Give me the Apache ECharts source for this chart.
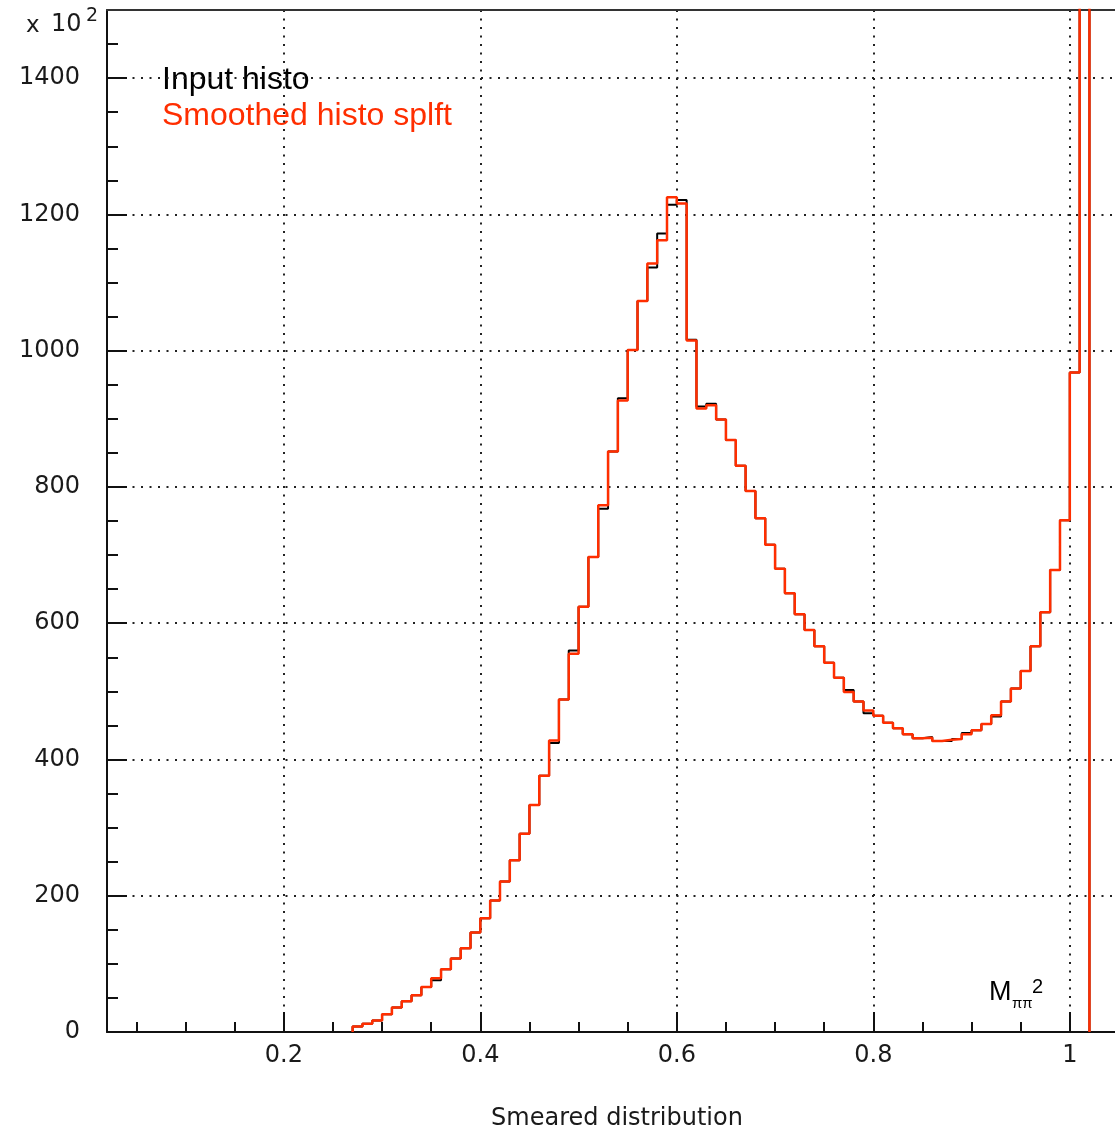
<!DOCTYPE html>
<html>
<head>
<meta charset="utf-8">
<script src="https://cdn.jsdelivr.net/npm/echarts@6/dist/echarts.min.js"></script>
<style>html,body{margin:0;padding:0;background:#fff;}#c{width:1115px;height:1133px;}</style>
</head>
<body>
<div id="c"></div>
<script>
// Bin lower edges (bin width 0.01)
const binEdges = [0.27,0.28,0.29,0.30,0.31,0.32,0.33,0.34,0.35,0.36,0.37,0.38,0.39,0.40,0.41,0.42,0.43,0.44,0.45,0.46,0.47,0.48,0.49,0.50,0.51,0.52,0.53,0.54,0.55,0.56,0.57,0.58,0.59,0.60,0.61,0.62,0.63,0.64,0.65,0.66,0.67,0.68,0.69,0.70,0.71,0.72,0.73,0.74,0.75,0.76,0.77,0.78,0.79,0.80,0.81,0.82,0.83,0.84,0.85,0.86,0.87,0.88,0.89,0.90,0.91,0.92,0.93,0.94,0.95,0.96,0.97,0.98,0.99,1.00,1.01];
const binUpperLast = 1.02;
// Input histo (x 10^2)
const inputHisto = [8,12,17,26,36,45,54,66,76,92,108,123,146,167,193,221,252,291,333,376,424,488,560,624,697,768,852,930,1001,1073,1122,1172,1214,1221,1016,918,922,899,869,831,794,754,715,680,644,613,590,566,542,520,502,485,468,464,454,446,437,431,433,427,427,430,439,443,452,463,485,504,530,566,616,678,751,968,1700];
// Smoothed histo splft (x 10^2)
const smoothHisto = [8,12,17,26,36,45,54,66,79,92,108,123,146,167,193,221,252,291,333,376,428,488,555,624,697,773,852,927,1001,1073,1128,1162,1225,1216,1015,915,920,899,869,831,794,754,715,680,644,613,590,566,542,520,499,485,472,464,454,446,437,431,432,427,429,430,437,443,452,465,485,504,530,566,616,678,751,968,1700];

const xMajorTicks = [0.2,0.4,0.6,0.8,1.0];
const xTickLabels = ['0.2','0.4','0.6','0.8','1'];
const xMinorTicks = [0.05,0.1,0.15,0.25,0.3,0.35,0.45,0.5,0.55,0.65,0.7,0.75,0.85,0.9,0.95];
const yMajorTicks = [0,200,400,600,800,1000,1200,1400];
const yTickLabels = ['0','200','400','600','800','1000','1200','1400'];
const yMinorTicks = [50,100,150,250,300,350,450,500,550,650,700,750,850,900,950,1050,1100,1150,1250,1300,1350,1450];

const X_MIN = 0.02, X_MAX = 1.046, Y_MIN = 0, Y_MAX = 1500;
const RED = '#ff2e00';

function histPoints(vals) {
  const pts = [[binEdges[0], 0]];
  for (let i = 0; i < vals.length; i++) {
    const hi = (i + 1 < binEdges.length) ? binEdges[i + 1] : binUpperLast;
    pts.push([hi, vals[i]]);
  }
  pts.push([binUpperLast, 0]);
  return pts;
}
function lookup(v, ticks, labels) {
  for (let i = 0; i < ticks.length; i++) if (Math.abs(ticks[i] - v) < 1e-9) return labels[i];
  return '';
}

const tickFont = { fontFamily: 'DejaVu Sans', fontSize: 24, color: '#1a1a1a' };
const dotted = { color: '#222', width: 2, type: [2, 6.5] };

const chart = echarts.init(document.getElementById('c'), null, { renderer: 'canvas' });
chart.setOption({
  animation: false,
  backgroundColor: '#fff',
  grid: { left: 107, right: 0, top: 10, bottom: 101, containLabel: false, outerBoundsMode: 'none' },
  xAxis: [
    {
      type: 'value', min: X_MIN, max: X_MAX, position: 'bottom',
      axisLine: { show: true, onZero: false, lineStyle: { color: '#111', width: 2 } },
      axisTick: { show: true, inside: true, length: 20, customValues: xMajorTicks, lineStyle: { color: '#111', width: 2 } },
      axisLabel: Object.assign({ show: true, margin: 12, customValues: xMajorTicks, formatter: v => lookup(v, xMajorTicks, xTickLabels) }, tickFont),
      splitLine: { show: true, lineStyle: dotted },
      name: 'Smeared distribution', nameLocation: 'middle', nameGap: 75,
      nameTextStyle: { fontFamily: 'DejaVu Sans', fontSize: 24, color: '#1a1a1a', padding: [0, 0, 0, 12] }
    },
    {
      type: 'value', min: X_MIN, max: X_MAX, position: 'bottom',
      axisLine: { show: false },
      axisTick: { show: true, inside: true, length: 10, customValues: xMinorTicks, lineStyle: { color: '#111', width: 2 } },
      axisLabel: { show: false }, splitLine: { show: false }
    },
    {
      type: 'value', min: X_MIN, max: X_MAX, position: 'top',
      axisLine: { show: true, onZero: false, lineStyle: { color: '#333', width: 2 } },
      axisTick: { show: false }, axisLabel: { show: false }, splitLine: { show: false }
    }
  ],
  yAxis: [
    {
      type: 'value', min: Y_MIN, max: Y_MAX, position: 'left',
      axisLine: { show: true, onZero: false, lineStyle: { color: '#111', width: 2 } },
      axisTick: { show: true, inside: true, length: 20, customValues: yMajorTicks, lineStyle: { color: '#111', width: 2 } },
      axisLabel: Object.assign({ show: true, margin: 27, customValues: yMajorTicks, formatter: v => lookup(v, yMajorTicks, yTickLabels) }, tickFont),
      splitLine: { show: true, lineStyle: dotted }
    },
    {
      type: 'value', min: Y_MIN, max: Y_MAX, position: 'left',
      axisLine: { show: false },
      axisTick: { show: true, inside: true, length: 11, customValues: yMinorTicks, lineStyle: { color: '#111', width: 2 } },
      axisLabel: { show: false }, splitLine: { show: false }
    }
  ],
  series: [
    {
      name: 'Input histo', type: 'line', step: 'start', showSymbol: false, symbol: 'none',
      xAxisIndex: 0, yAxisIndex: 0, clip: true,
      lineStyle: { color: '#000', width: 2 }, data: histPoints(inputHisto), z: 3
    },
    {
      name: 'Smoothed histo splft', type: 'line', step: 'start', showSymbol: false, symbol: 'none',
      xAxisIndex: 0, yAxisIndex: 0, clip: true,
      lineStyle: { color: RED, width: 2.5 }, data: histPoints(smoothHisto), z: 4
    }
  ],
  graphic: [
    { type: 'text', left: 162, top: 64, style: { text: 'Input histo', fontFamily: 'Liberation Sans', fontSize: 32, fill: '#000' } },
    { type: 'text', left: 162, top: 100, style: { text: 'Smoothed histo splft', fontFamily: 'Liberation Sans', fontSize: 32, fill: RED } },
    { type: 'text', left: 26, top: 15, style: { text: 'x', fontFamily: 'DejaVu Sans', fontSize: 23, fill: '#1a1a1a' } },
    { type: 'text', left: 51, top: 13, style: { text: '10', fontFamily: 'DejaVu Sans', fontSize: 24, fill: '#1a1a1a' } },
    { type: 'text', left: 86, top: 7, style: { text: '2', fontFamily: 'DejaVu Sans', fontSize: 19, fill: '#1a1a1a' } },
    { type: 'text', left: 989, top: 979, style: { text: 'M', fontFamily: 'Liberation Sans', fontSize: 27, fill: '#000' } },
    { type: 'text', left: 1012, top: 996, style: { text: 'ππ', fontFamily: 'Liberation Sans', fontSize: 15, fill: '#000' } },
    { type: 'text', left: 1032, top: 977, style: { text: '2', fontFamily: 'Liberation Sans', fontSize: 20, fill: '#000' } }
  ]
});
</script>
</body>
</html>
